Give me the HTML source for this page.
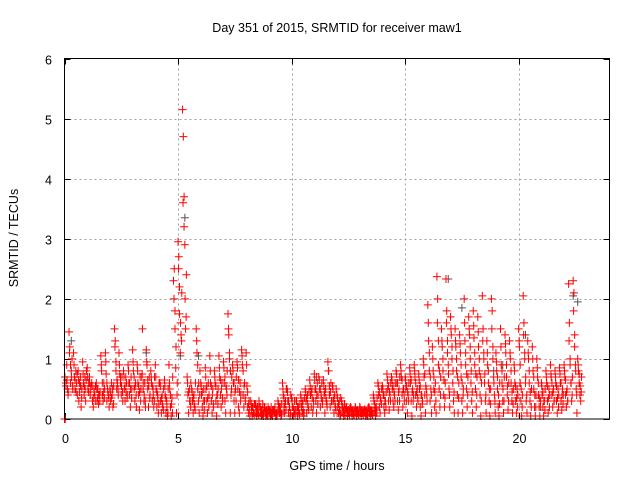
<!DOCTYPE html>
<html><head><meta charset="utf-8"><style>
body{margin:0;background:#fff}
svg{display:block;font-family:"Liberation Sans",sans-serif}
</style></head><body>
<svg id="chart" width="640" height="480" viewBox="0 0 640 480">
<rect width="640" height="480" fill="#fff"/>
<text x="337" y="32" font-size="12.5" text-anchor="middle">Day 351 of 2015, SRMTID for receiver maw1</text>
<text x="337" y="470" font-size="12.5" text-anchor="middle">GPS time / hours</text>
<text x="0" y="0" font-size="12.5" text-anchor="middle" transform="translate(18,238) rotate(-90)">SRMTID / TECUs</text>
<g id="grid"></g><g id="ticks"></g><g id="grey"></g><g id="red"></g>
<rect x="64.5" y="58.5" width="545" height="360.5" fill="none" stroke="#000" stroke-width="1"/>
</svg>
<script>
const xTicks=[0,5,10,15,20];
const yTicks=[0,1,2,3,4,5,6];
const binTimes=[];for(let i=0;i<=113;i++)binTimes.push(+(i*0.2).toFixed(1));
const binValues=[
[0,0,0.6,0.9,0.5,0.45],[1.45,1.2,0.6,0.8,1.0,0.5],[1.1,0.7,0.5,0.8,0.6,0.4],[0.8,0.3,0.6,0.7,0.2,0.5],[0.95,0.6,0.4,0.7,0.3,0.8],
[0.85,0.5,0.6,0.7,0.4,0.55],[0.6,0.3,0.2,0.5,0.4,0.55],[0.6,0.3,0.5,0.25,0.4,0.45],[1.05,0.8,0.4,0.3,0.6,0.5],[1.1,0.75,0.3,0.5,0.4,0.2],
[0.5,0.3,0.6,0.4,0.2,0.55],[1.5,1.3,0.95,0.5,0.6,0.4],[1.1,0.75,0.6,0.4,0.7,0.3],[0.8,0.5,0.3,0.7,0.6,0.4],[0.9,0.6,0.4,0.2,0.7,0.5],
[1.15,0.8,0.5,0.3,0.6,0.2],[0.9,0.6,0.4,0.15,0.7,0.5],[0.7,1.5,0.5,0.3,0.6,0.2],[1.15,0.9,0.5,0.2,0.7,0.4],[0.8,0.6,0.3,0.5,0.2,0.7],
[0.9,0.5,0.2,0.4,0.1,0.6],[0.6,0.3,0.1,0.4,0.2,0.5],[0.65,0.4,0.1,0.3,0.05,0.5],[0.9,0.5,0.2,0.05,0.35,0.7],[2.3,2.5,1.5,0.85,0.1,0.6],
[2.95,2.7,1.75,1.1,1.4,2.1],[5.15,4.7,3.7,2.9,1.5,2.4],[0.7,0.4,0.1,0.5,0.3,0.6],[0.5,0.3,0.1,0.4,0.2,0.6],[1.5,1.1,0.5,0.3,0.1,0.8],
[0.6,0.4,0.2,0.05,0.5,0.3],[0.85,0.5,0.3,0.1,0.6,0.4],[1.05,0.6,0.3,0.1,0.5,0.2],[0.8,0.6,0.3,0.05,0.4,0.5],[1.05,0.7,0.4,0.2,0.6,0.3],
[0.95,0.6,0.3,0.1,0.5,0.8],[1.75,1.4,1.0,0.1,0.4,0.7],[0.9,0.6,0.3,0.1,0.5,0.7],[0.95,0.5,0.2,0.1,0.6,0.4],[1.15,0.9,0.4,0.2,0.6,0.3],
[1.1,0.55,0.2,0.1,0.3,0.05],[0.3,0.15,0.05,0.2,0.1,0.25],[0.25,0.1,0.05,0.2,0.15,0.3],[0.2,0.1,0.05,0.15,0.25,0.1],[0.2,0.1,0.05,0.15,0.1,0.2],
[0.15,0.1,0.05,0.2,0.1,0.15],[0.15,0.1,0.2,0.05,0.1,0.12],[0.3,0.15,0.1,0.2,0.05,0.25],[0.6,0.4,0.2,0.1,0.3,0.5],[0.5,0.3,0.1,0.2,0.05,0.4],
[0.35,0.2,0.05,0.1,0.3,0.15],[0.3,0.15,0.05,0.2,0.1,0.25],[0.4,0.2,0.1,0.3,0.05,0.35],[0.5,0.3,0.1,0.4,0.2,0.45],[0.65,0.4,0.2,0.5,0.1,0.3],
[0.75,0.5,0.3,0.1,0.6,0.4],[0.7,0.5,0.2,0.4,0.6,0.3],[0.65,0.4,0.1,0.5,0.3,0.2],[0.95,0.8,0.4,0.2,0.6,0.3],[0.55,0.3,0.1,0.4,0.2,0.5],
[0.4,0.2,0.1,0.3,0.05,0.35],[0.3,0.2,0.1,0.05,0.25,0.15],[0.2,0.1,0.05,0.15,0.12,0.18],[0.2,0.1,0.05,0.15,0.08,0.12],[0.2,0.1,0.05,0.15,0.12,0.08],
[0.2,0.1,0.05,0.15,0.1,0.12],[0.15,0.1,0.05,0.12,0.08,0.18],[0.2,0.1,0.05,0.15,0.12,0.08],[0.4,0.3,0.15,0.05,0.2,0.35],[0.6,0.4,0.2,0.1,0.3,0.5],
[0.55,0.4,0.2,0.1,0.3,0.45],[0.75,0.5,0.3,0.15,0.4,0.6],[0.7,0.5,0.3,0.2,0.4,0.6],[0.8,0.6,0.3,0.15,0.5,0.7],[0.9,0.7,0.4,0.2,0.5,0.3],
[0.7,0.5,0.3,0.1,0.4,0.6],[0.85,0.6,0.3,0.05,0.5,0.4],[0.9,0.7,0.4,0.2,0.5,0.3],[0.75,0.5,0.2,0.05,0.4,0.3],[1.0,0.7,0.4,0.1,0.5,0.3],
[1.9,1.3,0.8,0.3,0.5,0.1],[1.2,0.8,0.5,0.2,0.6,0.1],[2.37,2.0,0.9,0.5,0.2,0.7],[1.5,1.2,0.8,0.4,0.2,0.6],[2.33,1.8,1.3,0.9,0.5,0.2],
[1.7,1.4,1.0,0.6,0.3,0.1],[1.5,1.2,0.8,0.4,0.1,0.6],[1.4,1.1,0.7,0.3,0.1,0.5],[2.0,1.3,0.9,0.5,0.2,0.7],[1.7,1.4,1.0,0.6,0.3,0.1],
[1.8,1.35,0.9,0.5,0.2,0.7],[1.7,1.2,0.8,0.4,0.05,0.6],[2.05,1.5,1.0,0.6,0.3,0.1],[1.3,0.9,0.6,0.3,0.05,0.5],[2.0,1.8,1.2,0.7,0.4,0.1],
[1.1,0.8,0.5,0.2,0.05,0.6],[1.5,0.9,0.6,0.3,0.1,0.7],[1.4,1.1,0.7,0.4,0.15,0.6],[1.3,1.0,0.6,0.3,0.1,0.5],[0.9,0.6,0.3,0.1,0.5,0.4],
[1.5,1.2,0.6,0.3,0.05,0.4],[2.05,1.6,1.1,0.6,0.3,0.1],[1.3,1.0,0.6,0.3,0.05,0.5],[1.2,0.8,0.5,0.2,0.05,0.4],[1.0,0.7,0.4,0.2,0.05,0.3],
[0.6,0.4,0.2,0.05,0.3,0.5],[0.8,0.6,0.3,0.1,0.5,0.4],[0.9,0.7,0.4,0.2,0.5,0.3],[0.8,0.6,0.3,0.1,0.5,0.4],[0.85,0.6,0.3,0.15,0.5,0.4],
[0.9,0.7,0.4,0.2,0.5,0.3],[2.25,1.6,1.0,0.6,0.3,0.7],[2.3,2.1,1.4,0.9,0.5,0.1],[1.0,0.8,0.6,0.4,0.3,0.7]
];
const binValues2=[
[0.7,0.55,0.65,0.4],[1.1,0.9,0.7,0.55],[0.9,0.65,0.45,0.75],[0.65,0.45,0.55,0.35],[0.75,0.55,0.5,0.65],
[0.7,0.45,0.6,0.5],[0.55,0.35,0.45,0.3],[0.5,0.35,0.4,0.3],[0.9,0.6,0.45,0.35],[0.95,0.6,0.45,0.35],
[0.45,0.35,0.5,0.25],[1.2,0.8,0.65,0.5],[0.9,0.7,0.55,0.45],[0.7,0.55,0.45,0.35],[0.8,0.6,0.5,0.35],
[0.95,0.7,0.55,0.4],[0.8,0.55,0.45,0.3],[0.75,0.6,0.4,0.3],[0.95,0.65,0.55,0.35],[0.7,0.55,0.4,0.3],
[0.7,0.45,0.35,0.25],[0.55,0.35,0.25,0.15],[0.55,0.35,0.2,0.1],[0.6,0.4,0.25,0.1],[2.0,1.8,1.2,0.4],
[2.5,2.2,1.6,1.3],[3.6,3.2,2.0,1.7],[0.6,0.45,0.3,0.2],[0.45,0.35,0.25,0.15],[1.3,0.9,0.6,0.4],
[0.55,0.45,0.3,0.15],[0.7,0.55,0.35,0.2],[0.8,0.55,0.4,0.25],[0.7,0.55,0.4,0.25],[0.85,0.65,0.5,0.35],
[0.85,0.7,0.55,0.4],[1.5,1.1,0.8,0.5],[0.8,0.6,0.45,0.3],[0.85,0.65,0.45,0.3],[1.05,0.8,0.55,0.35],
[0.9,0.45,0.25,0.15],[0.25,0.2,0.1,0.08],[0.22,0.15,0.1,0.06],[0.2,0.15,0.08,0.05],[0.18,0.12,0.08,0.05],
[0.15,0.12,0.08,0.05],[0.15,0.12,0.08,0.05],[0.25,0.2,0.12,0.08],[0.5,0.35,0.25,0.15],[0.45,0.3,0.2,0.1],
[0.3,0.2,0.15,0.08],[0.3,0.2,0.15,0.08],[0.35,0.25,0.15,0.1],[0.45,0.35,0.25,0.15],[0.55,0.45,0.35,0.2],
[0.65,0.5,0.4,0.25],[0.65,0.5,0.35,0.25],[0.55,0.45,0.35,0.25],[0.8,0.55,0.45,0.3],[0.5,0.35,0.25,0.15],
[0.35,0.25,0.15,0.08],[0.25,0.18,0.12,0.06],[0.18,0.14,0.1,0.06],[0.18,0.14,0.1,0.06],[0.18,0.14,0.1,0.06],
[0.18,0.14,0.1,0.06],[0.16,0.12,0.08,0.05],[0.18,0.14,0.1,0.06],[0.35,0.25,0.18,0.1],[0.55,0.45,0.35,0.25],
[0.5,0.4,0.3,0.2],[0.65,0.55,0.45,0.3],[0.65,0.55,0.45,0.3],[0.75,0.6,0.45,0.3],[0.8,0.65,0.5,0.4],
[0.65,0.55,0.45,0.3],[0.75,0.65,0.45,0.3],[0.8,0.6,0.45,0.35],[0.65,0.55,0.4,0.25],[0.9,0.75,0.55,0.4],
[1.6,1.1,0.7,0.4],[1.0,0.7,0.45,0.3],[1.6,1.3,0.8,0.4],[1.3,1.0,0.65,0.35],[1.6,1.1,0.75,0.4],
[1.5,1.2,0.8,0.45],[1.3,1.0,0.7,0.35],[1.25,0.9,0.6,0.4],[1.6,1.1,0.75,0.4],[1.5,1.2,0.8,0.45],
[1.55,1.1,0.75,0.4],[1.45,1.0,0.7,0.3],[1.3,1.1,0.75,0.4],[1.1,0.8,0.5,0.25],[1.5,1.0,0.6,0.3],
[0.95,0.7,0.4,0.25],[1.2,0.8,0.5,0.3],[1.25,0.9,0.55,0.3],[1.1,0.8,0.45,0.25],[0.8,0.55,0.35,0.2],
[1.3,0.9,0.5,0.2],[1.4,1.0,0.7,0.4],[1.1,0.8,0.45,0.2],[1.0,0.7,0.4,0.2],[0.85,0.6,0.35,0.2],
[0.55,0.45,0.3,0.15],[0.7,0.55,0.35,0.2],[0.75,0.6,0.45,0.3],[0.7,0.55,0.35,0.2],[0.75,0.6,0.4,0.25],
[0.8,0.65,0.45,0.3],[1.3,0.9,0.6,0.4],[1.8,1.2,0.8,0.4],[0.9,0.75,0.55,0.45]
];
const greyTimes=[0.3,1.1,3.6,5.1,5.3,5.9,7.3,11.1,16.9,17.5,18.9,19.3,20.3,22.4,22.6];
const greyValues=[1.3,0.7,1.1,1.05,3.35,1.05,0.8,0.7,2.33,1.85,0.8,0.9,1.4,2.05,1.95];
const NS="http://www.w3.org/2000/svg";
const X0=64.5,X1=609.5,Y0=419,Y1=58.5;
function xs(t){return X0+t/24*(X1-X0);}
function ys(v){return Y0-v/6*(Y0-Y1);}
function mk(tag,attrs,parent){const e=document.createElementNS(NS,tag);for(const k in attrs)e.setAttribute(k,attrs[k]);parent.appendChild(e);return e;}
const grid=document.getElementById('grid'),ticks=document.getElementById('ticks');
xTicks.forEach(t=>{const x=Math.round(xs(t))+0.5;
 if(t>0){const g=mk('line',{x1:x,x2:x,y1:Y1,y2:Y0,stroke:'#a0a0a0','stroke-dasharray':'2,3'},grid);
 
 }
 mk('line',{x1:x,x2:x,y1:Y0,y2:Y0-6,stroke:'#000'},ticks);
 mk('line',{x1:x,x2:x,y1:Y1,y2:Y1+6,stroke:'#000'},ticks);
 const l=mk('text',{x:x,y:443,'font-size':12.5,'text-anchor':'middle'},ticks);l.textContent=t;
 
 });
yTicks.forEach(v=>{const y=Math.round(ys(v))+0.5;
 if(v>0&&v<6){const g=mk('line',{x1:X0,x2:X1,y1:y,y2:y,stroke:'#a0a0a0','stroke-dasharray':'2,3'},grid);
 
 }
 mk('line',{x1:X0,x2:X0+6,y1:y,y2:y,stroke:'#000'},ticks);
 mk('line',{x1:X1,x2:X1-6,y1:y,y2:y,stroke:'#000'},ticks);
 const l=mk('text',{x:52,y:y+5,'font-size':12.5,'text-anchor':'end'},ticks);l.textContent=v;
 
 });
function plus(x,y){return `M${x-4},${y}h8M${x},${y-4}v8`;}
let gd='';greyTimes.forEach((t,i)=>{gd+=plus(xs(t),ys(greyValues[i]));});
const gp=mk('path',{d:gd,stroke:'#555',fill:'none','stroke-width':1},document.getElementById('grey'));


let rd='';
binTimes.forEach((t,i)=>{binValues[i].forEach((v,j)=>{rd+=plus(xs(t+j*0.033),ys(v));});});
binTimes.forEach((t,i)=>{binValues2[i].forEach((v,j)=>{rd+=plus(xs(t+0.02+j*0.045),ys(v));});});
const rp=mk('path',{d:rd,stroke:'#f00',fill:'none','stroke-width':1},document.getElementById('red'));


</script>
</body></html>
